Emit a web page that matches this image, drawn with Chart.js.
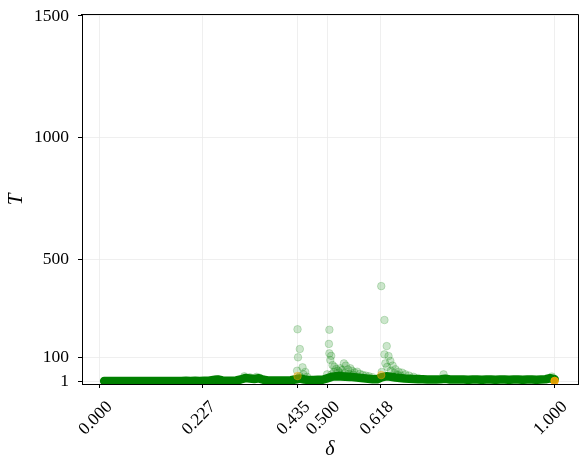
<!DOCTYPE html>
<html><head><meta charset="utf-8">
<script src="https://cdn.jsdelivr.net/npm/chart.js@4"></script>
<style>html,body{margin:0;padding:0;background:#fff}</style>
</head><body>
<canvas id="c" width="586" height="469"></canvas>
<script>
// Axis ticks
const xTicks = [0, 0.227, 0.435, 0.5, 0.618, 1.0];
const xTickLabels = ['0.000', '0.227', '0.435', '0.500', '0.618', '1.000'];
const yTicks = [1, 100, 500, 1000, 1500];
const yTickLabels = ['1', '100', '500', '1000', '1500'];

// Dense low-T band (δ, T)
const bandDelta = [0.01,0.02,0.03,0.04,0.05,0.06,0.07,0.08,0.09,0.10,
  0.11,0.12,0.13,0.14,0.15,0.16,0.17,0.18,0.19,0.20,
  0.21,0.22,0.23,0.24,0.25,0.26,0.27,0.28,0.29,0.30,
  0.31,0.32,0.33,0.34,0.35,0.36,0.37,0.38,0.39,0.40,
  0.41,0.42,0.43,0.44,0.45,0.46,0.47,0.48,0.49,0.50,
  0.51,0.52,0.53,0.54,0.55,0.56,0.57,0.58,0.59,0.60,
  0.61,0.62,0.63,0.64,0.65,0.66,0.67,0.68,0.69,0.70,
  0.71,0.72,0.73,0.74,0.75,0.76,0.77,0.78,0.79,0.80,
  0.81,0.82,0.83,0.84,0.85,0.86,0.87,0.88,0.89,0.90,
  0.91,0.92,0.93,0.94,0.95,0.96,0.97,0.98,0.99,1.00];
const bandT = [3,3,3,3,3,3,3,3,3,3,
  3,3,3,3,3,3,3,3,4,3,
  4,3,4,4,7,9,5,4,4,5,
  9,15,13,11,14,8,5,5,5,5,
  5,6,9,13,9,7,7,8,8,14,
  20,22,22,21,20,18,16,14,12,10,
  10,18,22,20,17,15,13,12,11,10,
  10,9,9,9,10,12,9,9,9,9,
  8,9,9,8,9,9,8,9,9,8,
  9,9,8,9,9,8,9,10,14,10];

// Sparse high-T points (δ, T)
const peakDelta = [0.435,0.440,0.436,0.446,0.434,0.452,0.448,0.440,0.456,0.430,
  0.505,0.504,0.505,0.509,0.507,0.512,0.516,0.520,0.524,0.529,0.533,0.537,0.541,0.546,0.551,0.555,0.560,0.566,0.572,0.578,0.585,0.592,0.600,0.527,0.538,0.548,0.558,0.530,0.515,0.510,0.500,
  0.619,0.626,0.631,0.626,0.635,0.639,0.632,0.644,0.650,0.657,0.665,0.672,0.680,0.690,0.700,0.620,0.628,0.640,0.648,0.655,0.662,
  0.756,0.994,0.990,0.318,0.330,0.345,0.352,0.255,0.262];
const peakT = [215,134,100,59,45,40,30,22,20,12,
  213,155,116,106,89,68,61,52,45,55,48,75,66,50,55,45,38,41,32,28,25,22,18,38,35,32,28,28,40,30,30,
  392,253,146,112,105,85,61,66,51,41,37,30,25,20,15,40,75,45,35,28,25,
  30,21,14,22,18,20,16,10,8];

// Orange points (δ, T)
const orangeDelta = [0.435, 0.619, 1.0];
const orangeT = [23, 27, 3];

const toPts = (xs, ys) => xs.map((x, i) => ({x: x, y: ys[i]}));
const serif = "'Liberation Serif', 'DejaVu Serif', serif";

const framePlugin = {
  id: 'frame',
  afterDatasetsDraw(chart) {
    const {ctx, chartArea: a} = chart;
    ctx.save();
    ctx.strokeStyle = 'black';
    ctx.lineWidth = 1;
    const l = Math.round(a.left) - 0.5, r = Math.round(a.right) + 0.5;
    const t = Math.round(a.top) - 0.5, b = Math.round(a.bottom) + 0.5;
    ctx.beginPath();
    ctx.moveTo(l - 0.5, t); ctx.lineTo(r, t); ctx.lineTo(r, b + 0.5);
    ctx.stroke();
    ctx.restore();
  }
};

new Chart(document.getElementById('c'), {
  type: 'scatter',
  data: {
    datasets: [
      {
        label: 'orange',
        data: toPts(orangeDelta, orangeT),
        backgroundColor: ['rgba(255,165,0,0.4)', 'rgba(255,165,0,0.4)', 'rgba(255,165,0,0.85)'],
        borderColor: ['rgba(255,165,0,0.4)', 'rgba(255,165,0,0.4)', 'rgba(255,165,0,0.85)'],
        borderWidth: 1, pointRadius: 3.8, clip: 0
      },
      {
        label: 'peaks',
        data: toPts(peakDelta, peakT),
        backgroundColor: 'rgba(0,128,0,0.2)',
        borderColor: 'rgba(0,128,0,0.2)',
        borderWidth: 1, pointRadius: 3.8, clip: 0
      },
      {
        label: 'band',
        data: toPts(bandDelta, bandT),
        showLine: true,
        borderColor: 'rgb(0,128,0)',
        backgroundColor: 'rgb(0,128,0)',
        borderWidth: 8.6,
        borderCapStyle: 'round',
        borderJoinStyle: 'round',
        pointRadius: 0,
        clip: 0
      }
    ]
  },
  options: {
    responsive: false,
    animation: false,
    events: [],
    layout: {padding: {left: 0, right: 8, top: 15, bottom: 0}},
    plugins: {legend: {display: false}, tooltip: {enabled: false}},
    scales: {
      x: {
        type: 'linear', min: -0.0387, max: 1.0514,
        afterBuildTicks: s => { s.ticks = xTicks.map(v => ({value: v})); },
        afterFit: s => { s.height = 85; s.paddingLeft = 0; s.paddingRight = 0; },
        ticks: {
          autoSkip: false, maxRotation: 45, minRotation: 45,
          callback: (v, i) => xTickLabels[i],
          font: {family: serif, size: 17.5}, color: 'black',
          padding: 9, labelOffset: 10
        },
        grid: {color: '#ebebeb', lineWidth: 0.8, tickLength: 4, tickColor: 'black', tickWidth: 1},
        border: {color: 'black', width: 1},
        title: {display: true, text: 'δ', color: 'black',
          font: {family: serif, size: 20, style: 'italic'}, padding: {top: 0, bottom: 7}}
      },
      y: {
        type: 'linear', min: -9.4, max: 1504,
        afterBuildTicks: s => { s.ticks = yTicks.map(v => ({value: v})); },
        afterFit: s => { s.width = 82; s.paddingTop = 0; s.paddingBottom = 0; },
        ticks: {
          callback: (v, i) => yTickLabels[i],
          font: {family: serif, size: 17.5}, color: 'black', padding: 9
        },
        grid: {color: '#ebebeb', lineWidth: 0.8, tickLength: 4, tickColor: 'black', tickWidth: 1},
        border: {color: 'black', width: 1},
        title: {display: true, text: 'T', color: 'black',
          font: {family: serif, size: 21, style: 'italic'}, padding: {top: 4, bottom: 4}}
      }
    }
  },
  plugins: [framePlugin]
});
</script>
</body></html>
